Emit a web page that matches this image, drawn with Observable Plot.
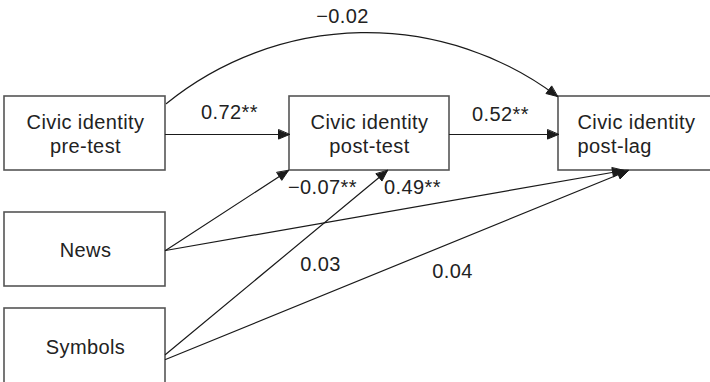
<!DOCTYPE html>
<html><head><meta charset="utf-8">
<script src="https://cdn.jsdelivr.net/npm/d3@7"></script>
<script src="https://cdn.jsdelivr.net/npm/@observablehq/plot@0.6"></script>
<style>body{margin:0;background:#fff}</style>
</head><body><div id="chart"></div>
<script>
// ---- Data ----
const nodeIds = ["pre", "post", "lag", "news", "symbols"];
const nodeLine1 = ["Civic identity", "Civic identity", "Civic identity", "News", "Symbols"];
const nodeLine2 = ["pre-test", "post-test", "post-lag", "", ""];
const edgeFrom = ["pre", "post", "pre", "news", "news", "symbols", "symbols"];
const edgeTo   = ["post", "lag", "lag", "post", "lag", "post", "lag"];
const edgeCoef = ["0.72**", "0.52**", "\u22120.02", "\u22120.07**", "0.03", "0.49**", "0.04"];

// ---- Layout (pixel positions, kept separate from data) ----
const boxLayout = {
  pre: {x1: 4, x2: 165, y1: 96, y2: 170, tx: 85, anchor: "middle", b1: 128, b2: 152},
  post: {x1: 289, x2: 449, y1: 96, y2: 170, tx: 369, anchor: "middle", b1: 128, b2: 152},
  lag: {x1: 558, x2: 720, y1: 96, y2: 170, tx: 577, anchor: "start", b1: 128, b2: 152},
  news: {x1: 4, x2: 165, y1: 212, y2: 286, tx: 85, anchor: "middle", b1: 256, b2: 256},
  symbols: {x1: 4, x2: 165, y1: 308, y2: 395, tx: 85, anchor: "middle", b1: 353, b2: 353}
};
const edgeLayout = [
  {x1: 165, y1: 134, x2: 289, y2: 134, bend: 0, lx: 229, ly: 118},
  {x1: 449, y1: 134, x2: 558, y2: 134, bend: 0, lx: 500, ly: 120},
  {x1: 166, y1: 103, x2: 557, y2: 96, bend: 38, lx: 342, ly: 22},
  {x1: 165, y1: 250, x2: 288, y2: 170, bend: 0, lx: 322, ly: 193},
  {x1: 165, y1: 250, x2: 623, y2: 170, bend: 0, lx: 320, ly: 270},
  {x1: 165, y1: 354, x2: 387, y2: 170, bend: 0, lx: 412, ly: 193},
  {x1: 165, y1: 359, x2: 628, y2: 170, bend: 0, lx: 452, ly: 277}
];

// ---- Build tables ----
const boxes = nodeIds.map((id, i) => ({id, line1: nodeLine1[i], line2: nodeLine2[i], ...boxLayout[id]}));
const textRows = [];
boxes.forEach(b => {
  textRows.push({x: b.tx, y: b.b1, text: b.line1, anchor: b.anchor});
  if (b.line2) textRows.push({x: b.tx, y: b.b2, text: b.line2, anchor: b.anchor});
});
const edges = edgeFrom.map((f, i) => ({from: f, to: edgeTo[i], coef: edgeCoef[i], ...edgeLayout[i]}));

// arrowhead polygons at edge ends
const L = 11, W = 4.6;
const heads = [];
edges.forEach((e, i) => {
  const a = Math.atan2(e.y2 - e.y1, e.x2 - e.x1) + e.bend * Math.PI / 180;
  const ux = Math.cos(a), uy = Math.sin(a), nx = -uy, ny = ux;
  heads.push({id: i, x: e.x2, y: e.y2});
  heads.push({id: i, x: e.x2 - L * ux + W * nx, y: e.y2 - L * uy + W * ny});
  heads.push({id: i, x: e.x2 - L * ux - W * nx, y: e.y2 - L * uy - W * ny});
});

const ink = "#1a1a1a";
const bends = Array.from(new Set(edges.map(e => e.bend)));
const arrowMarks = bends.map(b => Plot.arrow(edges.filter(e => e.bend === b),
  {x1: "x1", y1: "y1", x2: "x2", y2: "y2", bend: b, headLength: 0, stroke: ink, strokeWidth: 1.2}));

const chart = Plot.plot({
  width: 710, height: 382, margin: 0,
  x: {domain: [0, 710], axis: null},
  y: {domain: [0, 382], axis: null, reverse: true},
  style: {fontFamily: "'Liberation Sans', Arial, Helvetica, sans-serif", fontSize: "20px", letterSpacing: "0.4px", background: "#fff", overflow: "hidden"},
  marks: [
    Plot.rect(boxes, {x1: "x1", x2: "x2", y1: "y1", y2: "y2", fill: "#fff", stroke: "#555", strokeWidth: 1.6}),
    ...arrowMarks,
    Plot.line(heads, {x: "x", y: "y", z: "id", curve: "linear-closed", fill: ink, stroke: ink, strokeWidth: 1}),
    Plot.text(textRows.filter(d => d.anchor === "middle"), {x: "x", y: "y", text: "text", textAnchor: "middle", lineAnchor: "bottom", fill: "#222"}),
    Plot.text(textRows.filter(d => d.anchor === "start"), {x: "x", y: "y", text: "text", textAnchor: "start", lineAnchor: "bottom", fill: "#222"}),
    Plot.text(edges, {x: "lx", y: "ly", text: "coef", textAnchor: "middle", lineAnchor: "bottom", fill: "#222"})
  ]
});
document.getElementById("chart").appendChild(chart);
</script>
</body></html>
